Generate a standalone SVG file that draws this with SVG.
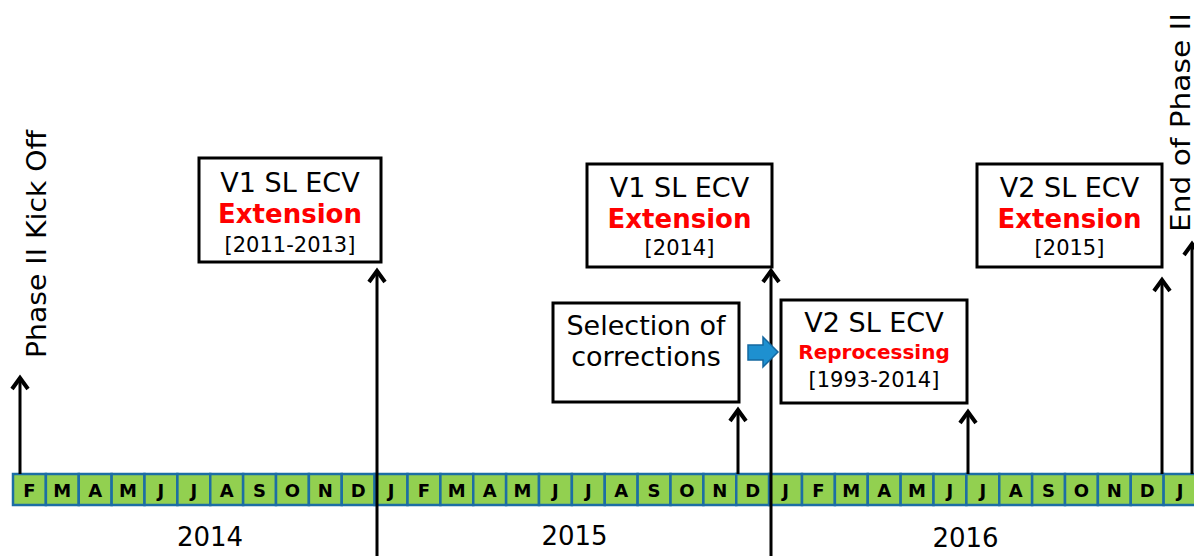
<svg xmlns="http://www.w3.org/2000/svg" width="1194" height="556" viewBox="0 0 1194 556">
<style>
text{font-family:"DejaVu Sans","Verdana",sans-serif;fill:#000}
.box{fill:#fff;stroke:#000;stroke-width:3}
.t1{font-size:27px;text-anchor:middle}
.red{font-weight:bold;fill:#ff0000;text-anchor:middle}
.yr{font-size:21px;text-anchor:middle}
.cell{fill:#92D050;stroke:#1C6EA4;stroke-width:2.5}
.m{font-size:18px;font-weight:bold;text-anchor:middle;fill:#000}
.year{font-size:26px;text-anchor:middle}
.conn{stroke:#000;stroke-width:3;fill:none;marker-end:url(#ah)}
.rot{font-size:27px}
</style>
<defs>
<marker id="ah" markerUnits="userSpaceOnUse" viewBox="-16 -12 20 24" markerWidth="20" markerHeight="24" refX="0" refY="0" orient="auto" overflow="visible">
<path d="M -12 -8 L -1 0 L -12 8" fill="none" stroke="#000" stroke-width="4"/>
</marker>
</defs>
<g id="timeline">
<rect class="cell" x="13" y="474" width="32.875" height="31"/>
<rect class="cell" x="45.88" y="474" width="32.875" height="31"/>
<rect class="cell" x="78.75" y="474" width="32.875" height="31"/>
<rect class="cell" x="111.63" y="474" width="32.875" height="31"/>
<rect class="cell" x="144.5" y="474" width="32.875" height="31"/>
<rect class="cell" x="177.38" y="474" width="32.875" height="31"/>
<rect class="cell" x="210.25" y="474" width="32.875" height="31"/>
<rect class="cell" x="243.13" y="474" width="32.875" height="31"/>
<rect class="cell" x="276" y="474" width="32.875" height="31"/>
<rect class="cell" x="308.88" y="474" width="32.875" height="31"/>
<rect class="cell" x="341.75" y="474" width="32.875" height="31"/>
<rect class="cell" x="374.63" y="474" width="32.875" height="31"/>
<rect class="cell" x="407.5" y="474" width="32.875" height="31"/>
<rect class="cell" x="440.38" y="474" width="32.875" height="31"/>
<rect class="cell" x="473.25" y="474" width="32.875" height="31"/>
<rect class="cell" x="506.13" y="474" width="32.875" height="31"/>
<rect class="cell" x="539" y="474" width="32.875" height="31"/>
<rect class="cell" x="571.88" y="474" width="32.875" height="31"/>
<rect class="cell" x="604.75" y="474" width="32.875" height="31"/>
<rect class="cell" x="637.63" y="474" width="32.875" height="31"/>
<rect class="cell" x="670.5" y="474" width="32.875" height="31"/>
<rect class="cell" x="703.38" y="474" width="32.875" height="31"/>
<rect class="cell" x="736.25" y="474" width="32.875" height="31"/>
<rect class="cell" x="769.13" y="474" width="32.875" height="31"/>
<rect class="cell" x="802" y="474" width="32.875" height="31"/>
<rect class="cell" x="834.88" y="474" width="32.875" height="31"/>
<rect class="cell" x="867.75" y="474" width="32.875" height="31"/>
<rect class="cell" x="900.63" y="474" width="32.875" height="31"/>
<rect class="cell" x="933.5" y="474" width="32.875" height="31"/>
<rect class="cell" x="966.38" y="474" width="32.875" height="31"/>
<rect class="cell" x="999.25" y="474" width="32.875" height="31"/>
<rect class="cell" x="1032.13" y="474" width="32.875" height="31"/>
<rect class="cell" x="1065" y="474" width="32.875" height="31"/>
<rect class="cell" x="1097.88" y="474" width="32.875" height="31"/>
<rect class="cell" x="1130.75" y="474" width="32.875" height="31"/>
<rect class="cell" x="1163.63" y="474" width="32.875" height="31"/>
<text class="m" x="29.44" y="497">F</text>
<text class="m" x="62.31" y="497">M</text>
<text class="m" x="95.19" y="497">A</text>
<text class="m" x="128.06" y="497">M</text>
<text class="m" x="160.94" y="497">J</text>
<text class="m" x="193.81" y="497">J</text>
<text class="m" x="226.69" y="497">A</text>
<text class="m" x="259.56" y="497">S</text>
<text class="m" x="292.44" y="497">O</text>
<text class="m" x="325.31" y="497">N</text>
<text class="m" x="358.19" y="497">D</text>
<text class="m" x="391.06" y="497">J</text>
<text class="m" x="423.94" y="497">F</text>
<text class="m" x="456.81" y="497">M</text>
<text class="m" x="489.69" y="497">A</text>
<text class="m" x="522.56" y="497">M</text>
<text class="m" x="555.44" y="497">J</text>
<text class="m" x="588.31" y="497">J</text>
<text class="m" x="621.19" y="497">A</text>
<text class="m" x="654.06" y="497">S</text>
<text class="m" x="686.94" y="497">O</text>
<text class="m" x="719.81" y="497">N</text>
<text class="m" x="752.69" y="497">D</text>
<text class="m" x="785.56" y="497">J</text>
<text class="m" x="818.44" y="497">F</text>
<text class="m" x="851.31" y="497">M</text>
<text class="m" x="884.19" y="497">A</text>
<text class="m" x="917.06" y="497">M</text>
<text class="m" x="949.94" y="497">J</text>
<text class="m" x="982.81" y="497">J</text>
<text class="m" x="1015.69" y="497">A</text>
<text class="m" x="1048.56" y="497">S</text>
<text class="m" x="1081.44" y="497">O</text>
<text class="m" x="1114.31" y="497">N</text>
<text class="m" x="1147.19" y="497">D</text>
<text class="m" x="1180.06" y="497">J</text>
<text class="year" x="210" y="546">2014</text>
<text class="year" x="574.5" y="545">2015</text>
<text class="year" x="965.5" y="547">2016</text>
</g>
<g id="connectors">
<line class="conn" x1="20" y1="474" x2="20" y2="377"/>
<line class="conn" x1="377" y1="556" x2="377" y2="270"/>
<line class="conn" x1="738" y1="474" x2="738" y2="409"/>
<line class="conn" x1="771" y1="556" x2="771" y2="270"/>
<line class="conn" x1="968" y1="474" x2="968" y2="411"/>
<line class="conn" x1="1162" y1="474" x2="1162" y2="279"/>
<line class="conn" x1="1192" y1="474" x2="1192" y2="243"/>
</g>
<g id="kickoff">
<text class="rot" transform="translate(46,358) rotate(-90)" textLength="228" lengthAdjust="spacingAndGlyphs">Phase II Kick Off</text>
</g>
<g id="endphase">
<text class="rot" transform="translate(1190,232) rotate(-90)" textLength="219" lengthAdjust="spacingAndGlyphs">End of Phase II</text>
</g>
<g id="v1ext2011">
<rect class="box" x="199" y="158" width="182" height="104"/>
<text class="t1" x="290" y="192">V1 SL ECV</text>
<text class="red" x="290" y="223" font-size="26">Extension</text>
<text class="yr" x="290" y="252">[2011-2013]</text>
</g>
<g id="v1ext2014">
<rect class="box" x="587" y="164" width="185" height="103"/>
<text class="t1" x="679.5" y="197">V1 SL ECV</text>
<text class="red" x="679.5" y="228" font-size="26">Extension</text>
<text class="yr" x="679.5" y="255">[2014]</text>
</g>
<g id="v2ext2015">
<rect class="box" x="977" y="164" width="185" height="103"/>
<text class="t1" x="1069.5" y="197">V2 SL ECV</text>
<text class="red" x="1069.5" y="228" font-size="26">Extension</text>
<text class="yr" x="1069.5" y="255">[2015]</text>
</g>
<g id="selection">
<rect class="box" x="553" y="303" width="186" height="99"/>
<text class="t1" x="646" y="335">Selection of</text>
<text class="t1" x="646" y="366">corrections</text>
</g>
<g id="flowarrow">
<path d="M 748 345 L 763 345 L 763 337 L 778 352 L 763 367 L 763 360 L 748 360 Z" fill="#1E90D0" stroke="#1468A0" stroke-width="1.5"/>
</g>
<g id="v2reproc">
<rect class="box" x="781" y="300" width="186" height="103"/>
<text class="t1" x="874" y="332">V2 SL ECV</text>
<text class="red" x="874" y="359" font-size="20">Reprocessing</text>
<text class="yr" x="874" y="387">[1993-2014]</text>
</g>
</svg>
